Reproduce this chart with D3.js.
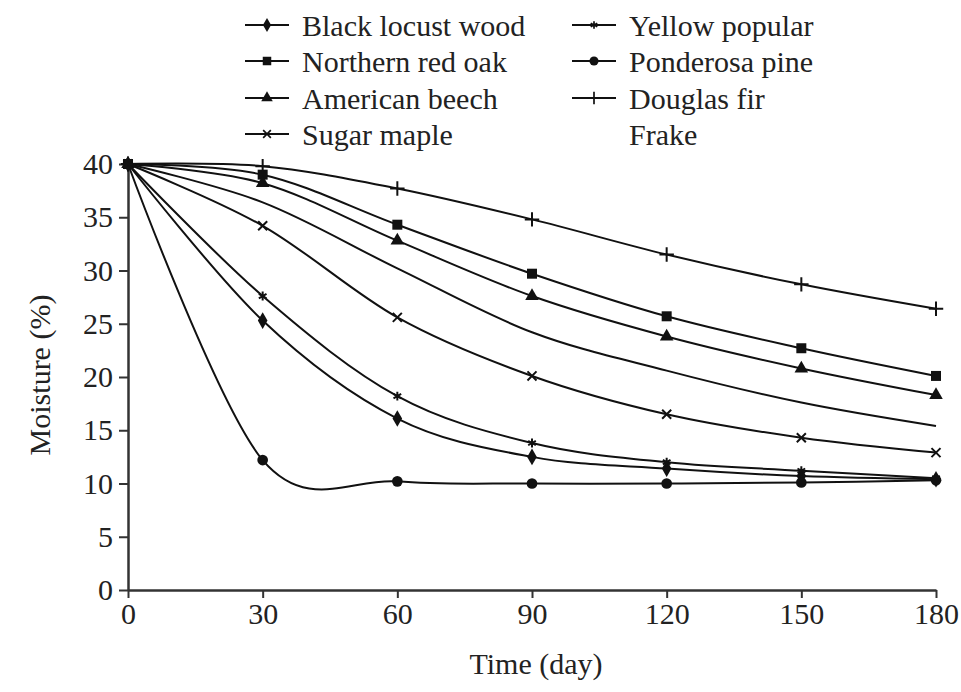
<!DOCTYPE html>
<html>
<head>
<meta charset="utf-8">
<script src="https://cdn.jsdelivr.net/npm/d3@7"></script>
<style>
  body { margin: 0; background: #fff; }
</style>
</head>
<body>
<script>
// data
var days = [0, 30, 60, 90, 120, 150, 180];
var yTicks = [0, 5, 10, 15, 20, 25, 30, 35, 40];

var blackLocust   = [40, 25.3, 16.1, 12.5, 11.4, 10.7, 10.4];
var yellowPopular = [40, 27.6, 18.2, 13.8, 12.0, 11.2, 10.5];
var redOak        = [40, 39.0, 34.3, 29.7, 25.7, 22.7, 20.1];
var ponderosa     = [40, 12.2, 10.2, 10.0, 10.0, 10.1, 10.3];
var beech         = [40, 38.2, 32.8, 27.6, 23.8, 20.8, 18.3];
var douglasFir    = [40, 39.8, 37.7, 34.8, 31.5, 28.7, 26.4];
var sugarMaple    = [40, 34.2, 25.6, 20.1, 16.5, 14.3, 12.9];
var frake         = [40, 36.4, 30.2, 24.2, 20.6, 17.6, 15.4];

var names   = ["Black locust wood", "Yellow popular", "Northern red oak", "Ponderosa pine",
               "American beech", "Douglas fir", "Sugar maple", "Frake"];
var values  = [blackLocust, yellowPopular, redOak, ponderosa, beech, douglasFir, sugarMaple, frake];
var symbols = ["diamond", "asterisk", "square", "circle", "triangle", "plus", "times", null];

var FONT = '"Liberation Serif", "Times New Roman", "DejaVu Serif", serif';

var width = 961, height = 692;
var margin = {top: 164, right: 25, bottom: 102, left: 128};
var w = width - margin.left - margin.right,
    h = height - margin.top - margin.bottom;

var svg = d3.select("body").append("svg")
    .attr("width", width)
    .attr("height", height)
    .attr("font-family", FONT);

var g = svg.append("g")
    .attr("transform", "translate(" + margin.left + "," + margin.top + ")");

var x = d3.scaleLinear().domain([0, 180]).range([0, w]);
var y = d3.scaleLinear().domain([0, 40]).range([h, 0]);

// axes
var xAxis = g.append("g")
    .attr("transform", "translate(0," + h + ")")
    .call(d3.axisBottom(x).tickValues(days).tickSize(8).tickPadding(5).tickSizeOuter(0));
var yAxis = g.append("g")
    .call(d3.axisLeft(y).tickValues(yTicks).tickSize(9).tickPadding(6).tickSizeOuter(0));

[xAxis, yAxis].forEach(function(a) {
  a.attr("font-family", FONT).attr("font-size", 30);
  a.select(".domain").attr("stroke", "#333").attr("stroke-width", 2.5);
  a.selectAll(".tick line").attr("stroke", "#333").attr("stroke-width", 2);
  a.selectAll(".tick text").attr("fill", "#222");
});

g.append("text")
    .attr("x", w / 2 + 4)
    .attr("y", h + 84)
    .attr("text-anchor", "middle")
    .attr("font-size", 30)
    .attr("fill", "#222")
    .text("Time (day)");

g.append("text")
    .attr("transform", "translate(-78," + (h / 2 - 2) + ") rotate(-90)")
    .attr("text-anchor", "middle")
    .attr("font-size", 30)
    .attr("fill", "#222")
    .text("Moisture (%)");

// symbol helpers
var symTypes = {
  diamond: d3.symbolDiamond, square: d3.symbolSquare, circle: d3.symbolCircle,
  triangle: d3.symbolTriangle, asterisk: d3.symbolAsterisk, plus: d3.symbolPlus,
  times: d3.symbolTimes
};
var symSizes = {diamond: 80, square: 100, circle: 90, triangle: 80, asterisk: 55, plus: 70, times: 55};
var filled = {diamond: true, square: true, circle: true, triangle: true};

function drawSymbol(sel, s) {
  var p = sel.append("path")
      .attr("d", d3.symbol().type(symTypes[s]).size(symSizes[s])());
  if (filled[s]) p.attr("fill", "#111").attr("stroke", "none");
  else p.attr("fill", "none").attr("stroke", "#111").attr("stroke-width", 2);
  return p;
}

var line = d3.line()
    .x(function(d, i) { return x(days[i]); })
    .y(function(d) { return y(d); })
    .curve(d3.curveCardinal.tension(0));

var series = g.selectAll(".series")
    .data(values)
    .enter().append("g")
    .attr("class", "series");

series.append("path")
    .attr("d", function(d) { return line(d); })
    .attr("fill", "none")
    .attr("stroke", "#111")
    .attr("stroke-width", 2);

series.each(function(d, k) {
  var s = symbols[k];
  if (!s) return;
  var sg = d3.select(this);
  d.forEach(function(v, i) {
    var m = sg.append("g").attr("transform", "translate(" + x(days[i]) + "," + y(v) + ")");
    drawSymbol(m, s);
  });
});

// legend
var legendX = [245, 572], legendY = [25, 61, 98, 134];
names.forEach(function(n, k) {
  var col = k % 2, row = Math.floor(k / 2);
  var lg = svg.append("g")
      .attr("transform", "translate(" + legendX[col] + "," + legendY[row] + ")");
  if (symbols[k]) {
    lg.append("line")
        .attr("x1", 0).attr("x2", 44).attr("y1", 0).attr("y2", 0)
        .attr("stroke", "#111").attr("stroke-width", 2.2);
    var m = lg.append("g").attr("transform", "translate(22,0)");
    drawSymbol(m, symbols[k]).attr("transform", "scale(0.85)");
  }
  lg.append("text")
      .attr("x", 57)
      .attr("dy", "0.35em")
      .attr("font-size", 30)
      .attr("fill", "#222")
      .text(n);
});
</script>
</body>
</html>
